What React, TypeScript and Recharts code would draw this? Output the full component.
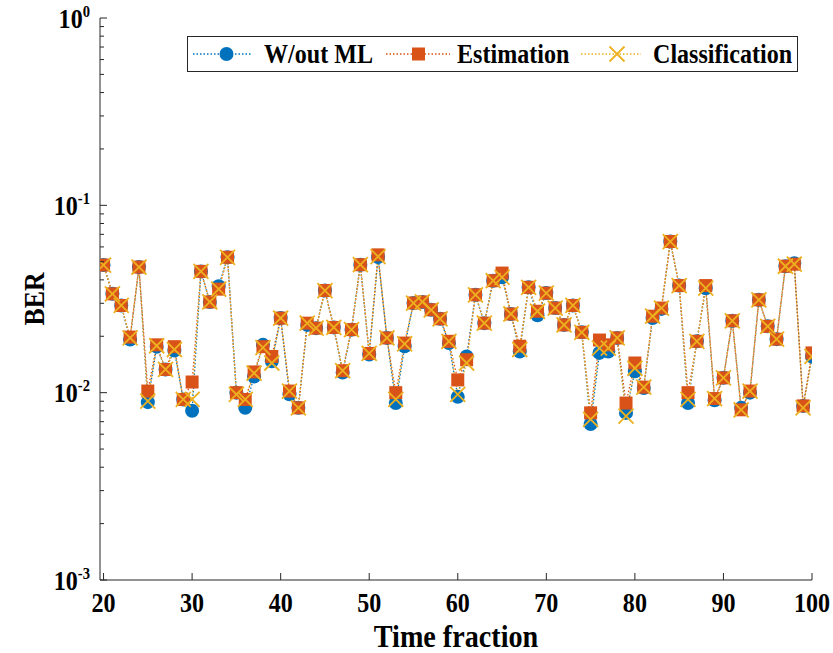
import React from 'react';
import { LineChart, Line, XAxis, YAxis } from 'recharts';

const timeFraction = [
  20, 21, 22, 23, 24, 25, 26, 27, 28, 29, 30, 31, 32, 33, 34, 35, 36, 37, 38, 39,
  40, 41, 42, 43, 44, 45, 46, 47, 48, 49, 50, 51, 52, 53, 54, 55, 56, 57, 58, 59,
  60, 61, 62, 63, 64, 65, 66, 67, 68, 69, 70, 71, 72, 73, 74, 75, 76, 77, 78, 79,
  80, 81, 82, 83, 84, 85, 86, 87, 88, 89, 90, 91, 92, 93, 94, 95, 96, 97, 98, 99, 100,
];

const berWithoutML = [
  0.048, 0.0337, 0.0292, 0.0192, 0.0468, 0.0089, 0.0176, 0.0133, 0.0168, 0.0092,
  0.008, 0.0444, 0.0305, 0.037, 0.0528, 0.01, 0.0083, 0.0122, 0.018, 0.0147,
  0.025, 0.0098, 0.0083, 0.023, 0.0221, 0.0351, 0.0223, 0.0128, 0.0217, 0.0482,
  0.016, 0.053, 0.0196, 0.0088, 0.0177, 0.0301, 0.0305, 0.0277, 0.0248, 0.0184,
  0.0095, 0.0156, 0.0333, 0.0235, 0.0396, 0.0413, 0.0263, 0.0166, 0.0365, 0.0259,
  0.034, 0.0283, 0.023, 0.0292, 0.021, 0.0068, 0.0163, 0.0166, 0.0196, 0.0078,
  0.013, 0.0106, 0.025, 0.028, 0.0641, 0.0373, 0.0088, 0.0188, 0.0361, 0.0091,
  0.012, 0.0242, 0.0083, 0.01, 0.0313, 0.0226, 0.0193, 0.0473, 0.049, 0.0085, 0.0156,
];

const berEstimation = [
  0.048, 0.0337, 0.0292, 0.0198, 0.0468, 0.0102, 0.018, 0.0133, 0.0176, 0.0092,
  0.0114, 0.0444, 0.0305, 0.0357, 0.0528, 0.01, 0.0092, 0.0129, 0.0176, 0.0156,
  0.025, 0.0102, 0.0083, 0.0235, 0.0221, 0.0351, 0.0223, 0.0131, 0.0217, 0.0482,
  0.0162, 0.0544, 0.0196, 0.01, 0.0184, 0.0301, 0.0305, 0.0277, 0.0248, 0.0188,
  0.0117, 0.015, 0.0333, 0.0235, 0.0396, 0.0435, 0.0263, 0.0177, 0.0365, 0.0272,
  0.034, 0.0283, 0.023, 0.0292, 0.021, 0.0078, 0.0191, 0.018, 0.0196, 0.0088,
  0.0144, 0.0107, 0.0256, 0.0283, 0.0641, 0.0373, 0.01, 0.0188, 0.0373, 0.0093,
  0.012, 0.0242, 0.0081, 0.0102, 0.0313, 0.0226, 0.0193, 0.0473, 0.0485, 0.0085, 0.0163,
];

const berClassification = [
  0.048, 0.0337, 0.0292, 0.0196, 0.0468, 0.009, 0.0178, 0.0133, 0.017, 0.0092,
  0.0092, 0.0444, 0.0305, 0.0357, 0.0528, 0.0098, 0.0092, 0.0127, 0.0174, 0.0144,
  0.025, 0.0102, 0.0083, 0.0235, 0.0221, 0.0351, 0.0223, 0.0131, 0.0217, 0.0482,
  0.0162, 0.0533, 0.0196, 0.0092, 0.0182, 0.0301, 0.0305, 0.0277, 0.0248, 0.0188,
  0.0098, 0.0144, 0.0333, 0.0235, 0.0396, 0.0413, 0.0263, 0.017, 0.0365, 0.0272,
  0.034, 0.0283, 0.023, 0.0292, 0.021, 0.0072, 0.0173, 0.0173, 0.0196, 0.0075,
  0.0135, 0.0107, 0.0256, 0.0283, 0.0641, 0.0373, 0.0092, 0.0188, 0.0361, 0.0093,
  0.012, 0.0242, 0.0081, 0.0102, 0.0313, 0.0226, 0.0193, 0.0473, 0.0485, 0.0083, 0.0156,
];

const seriesNames = ['W/out ML', 'Estimation', 'Classification'];
const seriesKeys = ['w', 'e', 'c'];
const seriesColors = ['#0072BD', '#D95319', '#EDB120'];

const xTicks = [20, 30, 40, 50, 60, 70, 80, 90, 100];
const yMajorTicks = [0.001, 0.01, 0.1, 1];
const yMinorMultipliers = [2, 3, 4, 5, 6, 7, 8, 9];

const data = timeFraction.map((t, i) => ({
  t,
  w: berWithoutML[i],
  e: berEstimation[i],
  c: berClassification[i],
}));

const yTicks = [
  ...yMajorTicks,
  ...yMajorTicks.slice(0, -1).flatMap((d) => yMinorMultipliers.map((m) => +(d * m).toPrecision(3))),
].sort((a, b) => a - b);

const FONT = '"Liberation Serif", "Times New Roman", serif';
const AXIS = '#262626';
const SX = 0.86;

const isMajor = (v: number) => {
  const l = Math.log10(v);
  return Math.abs(l - Math.round(l)) < 1e-6;
};

const LeftTick = (props: any) => {
  const { x, y, payload } = props;
  const v = payload.value;
  const major = isMajor(v);
  const len = major ? 7 : 4;
  return (
    <g>
      <line x1={x} y1={y} x2={x + len} y2={y} stroke={AXIS} strokeWidth={1} />
      {major && (
        <g transform={`translate(${x - 10},${y}) scale(${SX},1)`}>
          <text x={0} y={9.5} textAnchor="end" fontFamily={FONT} fontWeight="bold" fontSize={28} fill="#000">
            10
            <tspan fontSize={17} dy={-11}>
              {String(Math.round(Math.log10(v)))}
            </tspan>
          </text>
        </g>
      )}
    </g>
  );
};

const RightTick = (props: any) => {
  const { x, y, payload } = props;
  const len = isMajor(payload.value) ? 7 : 4;
  return <line x1={x} y1={y} x2={x - len} y2={y} stroke={AXIS} strokeWidth={1} />;
};

const BottomTick = (props: any) => {
  const { x, y, payload } = props;
  return (
    <g>
      <line x1={x} y1={y} x2={x} y2={y - 7} stroke={AXIS} strokeWidth={1} />
      <g transform={`translate(${x},${y + 32}) scale(${SX},1)`}>
        <text x={0} y={0} textAnchor="middle" fontFamily={FONT} fontWeight="bold" fontSize={28} fill="#000">
          {payload.value}
        </text>
      </g>
    </g>
  );
};

const TopTick = (props: any) => {
  const { x, y } = props;
  return <line x1={x} y1={y} x2={x} y2={y + 7} stroke={AXIS} strokeWidth={1} />;
};

const CircleMark = ({ cx, cy, color }: any) => <circle cx={cx} cy={cy} r={7} fill={color} />;
const SquareMark = ({ cx, cy, color }: any) => (
  <rect x={cx - 6.5} y={cy - 6.5} width={13} height={13} fill={color} />
);
const CrossMark = ({ cx, cy, color }: any) => (
  <g>
    <line x1={cx - 7.5} y1={cy - 7.5} x2={cx + 7.5} y2={cy + 7.5} stroke={color} strokeWidth={1.8} />
    <line x1={cx - 7.5} y1={cy + 7.5} x2={cx + 7.5} y2={cy - 7.5} stroke={color} strokeWidth={1.8} />
  </g>
);
const marks = [CircleMark, SquareMark, CrossMark];

const makeDot = (idx: number) => (p: any) => {
  const M = marks[idx];
  if (p.cx == null || p.cy == null) return <g key={`d-${idx}-${p.index}`} />;
  return (
    <g key={`d-${idx}-${p.index}`}>
      <M cx={p.cx} cy={p.cy} color={seriesColors[idx]} />
    </g>
  );
};

const XLabel = (p: any) => {
  const vb = p.viewBox;
  return (
    <g transform={`translate(${vb.x + vb.width / 2},${vb.y + vb.height - 6}) scale(0.88,1)`}>
      <text x={0} y={0} textAnchor="middle" fontFamily={FONT} fontWeight="bold" fontSize={32} fill="#000">
        Time fraction
      </text>
    </g>
  );
};

const YLabel = (p: any) => {
  const vb = p.viewBox;
  return (
    <g transform={`translate(${vb.x + 34},${vb.y + vb.height / 2}) rotate(-90) scale(0.86,1)`}>
      <text x={0} y={10} textAnchor="middle" fontFamily={FONT} fontWeight="bold" fontSize={30} fill="#000">
        BER
      </text>
    </g>
  );
};

const legendItems = [
  { lineFrom: 6, lineTo: 64, mark: 39.5, text: 77 },
  { lineFrom: 199, lineTo: 263, mark: 231.5, text: 270 },
  { lineFrom: 394, lineTo: 454, mark: 430, text: 466 },
];

const LegendBox = () => (
  <svg
    style={{ position: 'absolute', left: 187, top: 36 }}
    width={612}
    height={38}
  >
    <rect x={0.5} y={0.5} width={610} height={35} fill="#fff" stroke={AXIS} strokeWidth={1} />
    {seriesNames.map((name, i) => {
      const it = legendItems[i];
      const M = marks[i];
      return (
        <g key={name}>
          <line
            x1={it.lineFrom}
            y1={18}
            x2={it.lineTo}
            y2={18}
            stroke={seriesColors[i]}
            strokeWidth={1.3}
            strokeDasharray="1.5 2"
          />
          <M cx={it.mark} cy={18} color={seriesColors[i]} />
          <g transform={`translate(${it.text},27) scale(${SX},1)`}>
            <text x={0} y={0} fontFamily={FONT} fontWeight="bold" fontSize={28} fill="#000">
              {name}
            </text>
          </g>
        </g>
      );
    })}
  </svg>
);

export default function App() {
  return (
    <div style={{ position: 'absolute', left: 0, top: 0, width: 833, height: 653, background: '#fff' }}>
      <LineChart width={833} height={653} data={data} margin={{ top: 18, right: 21, left: 0, bottom: 0 }}>
        <XAxis
          dataKey="t"
          type="number"
          domain={[19.6, 100]}
          allowDataOverflow
          ticks={xTicks}
          interval={0}
          height={73}
          tickSize={0}
          tickMargin={0}
          tickLine={false}
          axisLine={{ stroke: AXIS, strokeWidth: 1 }}
          tick={BottomTick}
          label={{ content: XLabel }}
        />
        <XAxis
          xAxisId="top"
          orientation="top"
          dataKey="t"
          type="number"
          domain={[19.6, 100]}
          allowDataOverflow
          ticks={xTicks}
          interval={0}
          height={0}
          tickSize={0}
          tickMargin={0}
          tickLine={false}
          axisLine={{ stroke: AXIS, strokeWidth: 1 }}
          tick={TopTick}
        />
        <YAxis
          type="number"
          scale="log"
          domain={[0.001, 1]}
          allowDataOverflow
          ticks={yTicks}
          interval={0}
          width={100}
          tickSize={0}
          tickMargin={0}
          tickLine={false}
          axisLine={{ stroke: AXIS, strokeWidth: 1 }}
          tick={LeftTick}
          label={{ content: YLabel }}
        />
        <YAxis
          yAxisId="right"
          orientation="right"
          type="number"
          scale="log"
          domain={[0.001, 1]}
          allowDataOverflow
          ticks={yTicks}
          interval={0}
          width={0}
          tickSize={0}
          tickMargin={0}
          tickLine={false}
          axisLine={{ stroke: AXIS, strokeWidth: 1 }}
          tick={RightTick}
        />
        {seriesKeys.map((k, i) => (
          <Line
            key={k}
            type="linear"
            dataKey={k}
            name={seriesNames[i]}
            stroke={seriesColors[i]}
            strokeWidth={1.3}
            strokeDasharray="1.5 2"
            dot={makeDot(i)}
            activeDot={false}
            isAnimationActive={false}
          />
        ))}
      </LineChart>
      <LegendBox />
    </div>
  );
}
